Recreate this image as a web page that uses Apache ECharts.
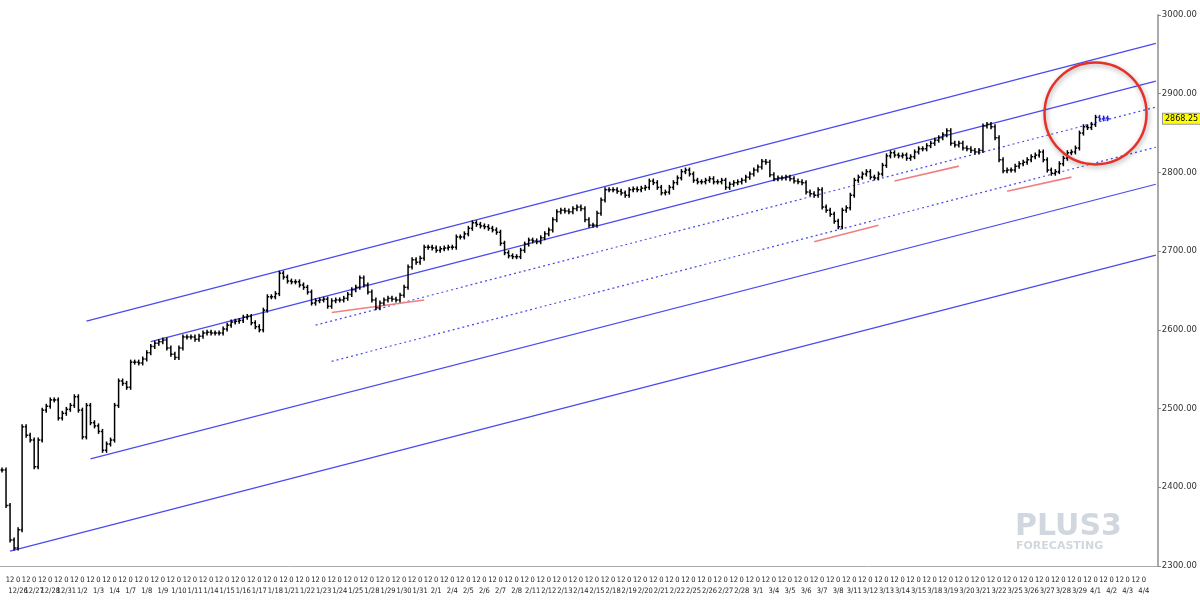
<!DOCTYPE html>
<html><head><meta charset="utf-8">
<script src="https://cdn.jsdelivr.net/npm/echarts@6/dist/echarts.min.js"></script>
<style>html,body{margin:0;padding:0;background:#fff}#c{width:1200px;height:604px}</style>
</head><body><div id="c"></div>
<script>
const days = ['12/24','12/26','12/27','12/28','12/31','1/2','1/3','1/4','1/7','1/8','1/9','1/10','1/11','1/14','1/15','1/16','1/17','1/18','1/21','1/22','1/23','1/24','1/25','1/28','1/29','1/30','1/31','2/1','2/4','2/5','2/6','2/7','2/8','2/11','2/12','2/13','2/14','2/15','2/18','2/19','2/20','2/21','2/22','2/25','2/26','2/27','2/28','3/1','3/4','3/5','3/6','3/7','3/8','3/11','3/12','3/13','3/14','3/15','3/18','3/19','3/20','3/21','3/22','3/25','3/26','3/27','3/28','3/29','4/1','4/2','4/3','4/4'];
const hours = [0, 6, 12, 18];
const yTicks = [2300, 2400, 2500, 2600, 2700, 2800, 2900, 3000];
// closes of 6-hour bars (open = previous close)
const closes = [2422,2377,2333,2323,2346,2477,2466,2460,2426,2460,2498,2503,2511,2511,2488,2494,2499,2504,2515,2498,
2464,2504,2482,2478,2471,2447,2455,2460,2504,2535,2532,2527,2559,2559,2558,2563,2571,2579,2583,2585,
2587,2577,2569,2565,2577,2591,2591,2591,2588,2592,2596,2597,2596,2596,2596,2601,2606,2610,2611,2612,
2616,2617,2609,2604,2600,2625,2642,2642,2646,2672,2667,2662,2661,2661,2657,2654,2648,2634,2637,2638,
2639,2630,2637,2638,2638,2640,2645,2651,2654,2666,2657,2648,2638,2628,2634,2638,2640,2639,2638,2644,
2654,2680,2689,2686,2691,2705,2705,2704,2701,2703,2704,2705,2705,2718,2718,2722,2729,2736,2734,2732,
2731,2729,2727,2724,2710,2698,2694,2693,2693,2701,2709,2714,2713,2712,2717,2722,2727,2740,2750,2752,
2751,2750,2754,2756,2754,2740,2733,2733,2748,2765,2778,2778,2778,2776,2774,2771,2778,2779,2778,2780,
2781,2789,2787,2781,2774,2775,2781,2787,2793,2801,2803,2798,2790,2788,2788,2790,2792,2788,2788,2790,
2781,2785,2787,2788,2790,2794,2798,2803,2807,2814,2813,2797,2792,2793,2793,2794,2792,2789,2788,2787,
2775,2773,2771,2778,2756,2752,2747,2738,2731,2752,2755,2771,2790,2794,2798,2801,2794,2793,2798,2809,
2821,2825,2822,2821,2822,2818,2820,2826,2830,2830,2834,2837,2841,2844,2848,2853,2837,2835,2837,2831,
2830,2828,2826,2828,2859,2861,2858,2844,2816,2802,2803,2803,2808,2811,2813,2816,2820,2822,2826,2816,
2803,2799,2801,2811,2818,2825,2826,2831,2850,2858,2857,2861,2870,2868,2869,2868.25];
// channel lines: [startIndex, startValue, endIndex, endValue]
const solidLines = [[21,2611,287,2964],[37,2585,287,2916],[22,2436,287,2785],[2,2319,287,2695]];
const dottedLines = [[78,2606,287,2883],[82,2560,287,2832]];
const redLines = [[82,2622,105,2638],[202,2712,218,2733],[222,2789,238,2808],[250,2776,266,2794]];
const lastPrice = 2868.25;
const circleCenter = [271.7, 2875];

const cats = [];
days.forEach(d => hours.forEach(h => cats.push(d + ' ' + h)));
const bars = closes.map((c, i) => [i, i === 0 ? c : closes[i - 1], c]);

const lineSeries = (arr, color, type, width) => arr.map(l => ({
  type: 'line', data: [[l[0], l[1]], [l[2], l[3]]], symbol: 'none', silent: true,
  lineStyle: { color, type, width }, z: 1
}));

const chart = echarts.init(document.getElementById('c'));
chart.setOption({
  animation: false,
  grid: { left: 0, right: 40, top: 15, bottom: 38 },
  xAxis: {
    type: 'category', data: cats, boundaryGap: true,
    axisLine: { lineStyle: { color: '#aaa' } }, axisTick: { show: false },
    axisLabel: {
      interval: 1, margin: 9, fontSize: 7.5, color: '#222', fontFamily: 'DejaVu Sans Condensed', lineHeight: 11,
      formatter: v => { const p = v.split(' '); return p[1] === '0' ? '0\n' + p[0] : '12\n '; }
    },
    splitLine: { show: false }
  },
  yAxis: {
    type: 'value', position: 'right', min: yTicks[0], max: yTicks[yTicks.length - 1], interval: 100,
    axisLine: { show: true, lineStyle: { color: '#aaa', width: 2 } },
    axisTick: { show: true, length: 3, lineStyle: { color: '#888' } },
    axisLabel: { fontSize: 8.5, color: '#333', fontFamily: 'DejaVu Sans', margin: 4, formatter: v => v.toFixed(2) },
    splitLine: { show: false }
  },
  series: [
    ...lineSeries(solidLines, '#4a4af0', 'solid', 1.2),
    ...lineSeries(dottedLines, '#4a4af0', [2, 3], 1.2),
    ...lineSeries(redLines, '#f08080', 'solid', 1.6),
    {
      type: 'custom', data: bars, z: 5,
      renderItem: (params, api) => {
        const i = api.value(0), o = api.value(1), c = api.value(2);
        const po = api.coord([i, o]), pc = api.coord([i, c]);
        const col = i >= closes.length - 3 ? '#2020e0' : '#000';
        const hi = Math.min(po[1], pc[1]) - 2.5, lo = Math.max(po[1], pc[1]) + 2.5;
        const st = { stroke: col, lineWidth: 1.5 };
        return { type: 'group', children: [
          { type: 'line', shape: { x1: po[0], y1: hi, x2: po[0], y2: lo }, style: st },
          { type: 'line', shape: { x1: po[0] - 1.5, y1: po[1], x2: po[0], y2: po[1] }, style: st },
          { type: 'line', shape: { x1: pc[0], y1: pc[1], x2: pc[0] + 1.8, y2: pc[1] }, style: st }
        ]};
      }
    }
  ]
});

const cp = chart.convertToPixel({ seriesIndex: 0 }, circleCenter);
const lp = chart.convertToPixel({ seriesIndex: 0 }, [0, lastPrice]);
chart.setOption({ graphic: [
  { type: 'circle', shape: { cx: cp[0], cy: cp[1], r: 51 }, style: { fill: 'none', stroke: '#e8302a', lineWidth: 2.5, shadowBlur: 5, shadowColor: 'rgba(0,0,0,0.35)', shadowOffsetX: 1, shadowOffsetY: 2 }, z: 20 },
  { type: 'text', left: 1162, top: lp[1] - 6, style: { text: lastPrice.toFixed(2), fontSize: 8, fontFamily: 'DejaVu Sans', fill: '#000', backgroundColor: '#ffff00', borderColor: '#999', borderWidth: 1, padding: [1, 2] }, z: 20 },
  { type: 'text', left: 1015, top: 512, style: { text: 'PLUS3', fontSize: 30, fontWeight: 'bold', fontFamily: 'DejaVu Sans', fill: 'rgba(120,140,160,0.35)' }, z: 0 },
  { type: 'text', left: 1016, top: 541, style: { text: 'FORECASTING', fontSize: 11, fontWeight: 'bold', fontFamily: 'DejaVu Sans', fill: 'rgba(120,140,160,0.35)' }, z: 0 }
]});
</script></body></html>
